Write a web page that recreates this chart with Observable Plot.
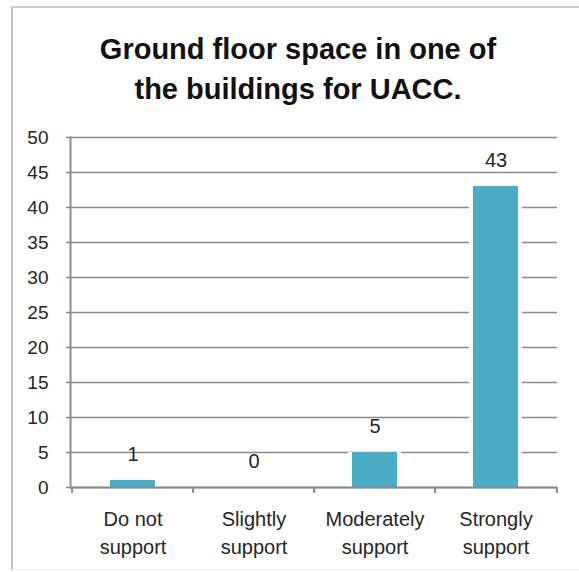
<!DOCTYPE html>
<html>
<head>
<meta charset="utf-8">
<script src="https://cdn.jsdelivr.net/npm/d3@7"></script>
<script src="https://cdn.jsdelivr.net/npm/@observablehq/plot@0.6"></script>
<style>
  html, body { margin: 0; padding: 0; background: #fff; }
  #wrap { position: relative; width: 579px; height: 572px; overflow: hidden; }
  #border { position: absolute; left: 11px; top: 6px; width: 600px; height: 561px;
            border-left: 2px solid #c4c4c4; border-top: 2px solid #cccccc; border-bottom: 1px solid #eeeeee; }
  #chart { position: absolute; left: 0; top: 0; }
</style>
</head>
<body>
<div id="wrap"><div id="border"></div><div id="chart"></div></div>
<script>
const title = "Ground floor space in one of\nthe buildings for UACC.";
const categories = ["Do not\nsupport", "Slightly\nsupport", "Moderately\nsupport", "Strongly\nsupport"];
const values = [1, 0, 5, 43];
const yTicks = [0, 5, 10, 15, 20, 25, 30, 35, 40, 45, 50];

const data = categories.map((c, i) => ({category: c, value: values[i]}));

const W = 579, H = 572, mL = 70, mR = 22, mT = 137, mB = 85;
const padInner = 0.63;
const step = (W - mL - mR) / categories.length;
const gray = "#8a8a8a";
const textColor = "#262626";

const chart = Plot.plot({
  width: W, height: H,
  marginLeft: mL, marginRight: mR, marginTop: mT, marginBottom: mB,
  style: {fontFamily: "Liberation Sans, Arial, sans-serif", background: "transparent"},
  x: {domain: categories, paddingInner: padInner, paddingOuter: padInner / 2, axis: null},
  y: {domain: [0, 50], axis: null},
  marks: [
    Plot.gridY(yTicks, {stroke: gray, strokeOpacity: 1, strokeWidth: 1.5}),
    Plot.axisY(yTicks, {tickSize: 4, tickPadding: 18, fontSize: 19, stroke: gray, strokeWidth: 1.5, fill: textColor, label: null}),
    Plot.rectY(data, {x: "category", y: "value", fill: "white", insetLeft: -4, insetRight: -4}),
    Plot.rectY(data, {x: "category", y: "value", fill: "#4bacc6"}),
    Plot.ruleY([0], {stroke: gray, strokeWidth: 2}),
    Plot.frame({anchor: "left", stroke: gray, strokeWidth: 2}),
    Plot.ruleX(categories, {x: d => d, dx: -step / 2, y1: 0, y2: -0.85, stroke: gray, strokeWidth: 2}),
    Plot.ruleX([categories[categories.length - 1]], {x: d => d, dx: step / 2, y1: 0, y2: -0.85, stroke: gray, strokeWidth: 2}),
    Plot.text(data, {x: "category", y: "value", text: d => String(d.value), dy: -26, fontSize: 20, fill: textColor, lineAnchor: "middle"}),
    Plot.text(categories, {x: d => d, frameAnchor: "bottom", dy: 19, lineAnchor: "top", lineHeight: 1.38, fontSize: 20, fill: textColor, text: d => d}),
    Plot.text([title], {frameAnchor: "top", dx: -16, dy: -71, lineAnchor: "middle", lineHeight: 1.38, fontSize: 29, fontWeight: "bold", fill: "#111", text: d => d})
  ]
});
document.getElementById("chart").appendChild(chart);
</script>
</body>
</html>
